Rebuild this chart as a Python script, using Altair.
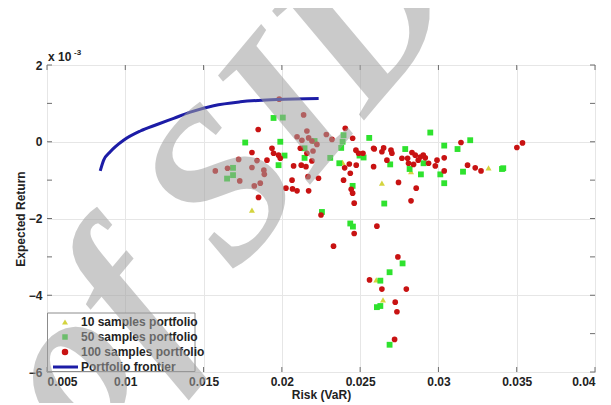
import altair as alt
import pandas as pd

# ---------------- data (Expected Return in units of 1e-3) ----------------
frontier_x = [0.00840, 0.00862, 0.00904, 0.00989, 0.01096, 0.01203, 0.01309,
              0.01415, 0.01564, 0.01734, 0.01969, 0.02235]
frontier_y = [-0.76, -0.48, -0.26, 0.04, 0.28, 0.45, 0.61, 0.77, 0.94, 1.04, 1.10, 1.13]

yellow_x = [0.01809, 0.02388, 0.02825, 0.03320, 0.02639, 0.02603, 0.02646]
yellow_y = [-1.78, -0.54, -0.78, -0.68, -1.08, -3.60, -4.12]

green_x = [0.01947, 0.02006, 0.01766, 0.01688, 0.01688, 0.01650, 0.02209, 0.02145,
           0.02145, 0.01990, 0.02017, 0.01979, 0.02394, 0.02388, 0.02379, 0.02558,
           0.02309, 0.02367, 0.02496, 0.02522, 0.02452, 0.02948, 0.02692, 0.02788,
           0.02816, 0.02905, 0.02888, 0.03037, 0.03012, 0.03037, 0.03122, 0.03203,
           0.03157, 0.03406, 0.03414, 0.02654, 0.02256, 0.02437, 0.02454, 0.02771,
           0.02688, 0.02629, 0.02607, 0.02629, 0.02688]
green_y = [0.62, 0.63, -0.02, -0.68, -0.87, -0.96, 0.02, -0.17,
           -0.42, 0.00, -0.36, -0.61, 0.17, 0.00, -0.16, 0.10,
           -0.42, -0.56, -0.36, -0.41, -1.15, 0.24, -0.59, -0.19,
           -0.71, -0.56, -0.85, -0.10, -0.85, -1.08, -0.19, 0.04,
           -0.78, -0.71, -0.69, -1.61, -1.83, -2.13, -2.21, -3.17,
           -3.40, -3.62, -4.31, -4.28, -5.29]

red_x = [0.01983, 0.02139, 0.01849, 0.01809, 0.01724, 0.01841, 0.01575, 0.01653,
         0.01731, 0.01809, 0.01885, 0.01888, 0.01862, 0.01824, 0.01851, 0.02160,
         0.02097, 0.02128, 0.02171, 0.02192, 0.02224, 0.02118, 0.02160, 0.02199,
         0.02192, 0.02124, 0.02154, 0.02075, 0.01937, 0.01947, 0.01979, 0.01990,
         0.01905, 0.02065, 0.02167, 0.02234, 0.02026, 0.02068, 0.02097, 0.02171,
         0.02284, 0.02320, 0.02405, 0.02452, 0.02473, 0.02490, 0.02586, 0.02401,
         0.02431, 0.02475, 0.02518, 0.02437, 0.02394, 0.02443, 0.02452, 0.02462,
         0.02586, 0.02590, 0.02639, 0.02650, 0.02697, 0.02703, 0.02671, 0.02767,
         0.02803, 0.02809, 0.02831, 0.02852, 0.02884, 0.02916, 0.02871, 0.02903,
         0.02841, 0.02937, 0.02980, 0.02991, 0.03037, 0.03037, 0.03144, 0.03186,
         0.03235, 0.03272, 0.03501, 0.03537, 0.02745, 0.02858, 0.02825, 0.02607,
         0.02250, 0.02462, 0.02330, 0.02741, 0.02560, 0.02639, 0.02795, 0.02724,
         0.02735, 0.02720]
red_y = [1.11, 0.70, 0.32, -0.28, -0.46, -0.49, -0.76, -0.69,
         -1.02, -0.67, -0.74, -0.85, -1.08, -1.15, -1.45, 0.28,
         0.13, 0.04, 0.10, 0.02, -0.07, -0.17, -0.30, -0.24,
         -0.50, -0.61, -0.65, -0.63, -0.17, -0.30, -0.35, -0.43,
         -0.48, -1.00, -0.91, -0.95, -1.21, -1.23, -1.28, -1.28,
         0.19, 0.06, 0.35, 0.09, -0.22, -0.30, -0.17, -0.68,
         -0.58, -0.61, -0.30, -0.82, -1.00, -1.24, -1.34, -1.60,
         -0.65, -0.19, -0.26, -0.16, -0.22, -0.30, -0.48, -0.43,
         -0.43, -0.56, -0.28, -0.35, -0.40, -0.42, -0.48, -0.35,
         -0.59, -0.56, -0.63, -0.48, -0.42, -0.76, -0.02, -0.61,
         -0.68, -0.76, -0.15, -0.03, -1.06, -1.21, -1.54, -2.20,
         -1.91, -2.39, -2.72, -3.00, -3.60, -3.84, -3.84, -4.18,
         -4.43, -5.15]

x_ticks = [0.005, 0.01, 0.015, 0.02, 0.025, 0.03, 0.035, 0.04]
y_ticks = [-6, -5, -4, -3, -2, -1, 0, 1, 2]

series_names = ["10 samples portfolio", "50 samples portfolio",
                "100 samples portfolio", "Portfolio frontier"]
series_color = ["#d4d43e", "#2ee22e", "#c81212", "#1c1ca6"]
series_shape = ["triangle-up", "square", "circle", "stroke"]
series_size = [36, 30, 42, 0]

W, H = 548, 307
FONT = "Liberation Sans"
FS = 12

# ---------------- tables ----------------
pts = pd.concat([
    pd.DataFrame({"risk": yellow_x, "ret": yellow_y, "series": series_names[0]}),
    pd.DataFrame({"risk": green_x, "ret": green_y, "series": series_names[1]}),
    pd.DataFrame({"risk": red_x, "ret": red_y, "series": series_names[2]}),
], ignore_index=True)
pts["z"] = range(len(pts))
fr = pd.DataFrame({"risk": frontier_x, "ret": frontier_y})
xt = pd.DataFrame({"risk": x_ticks})
yt = pd.DataFrame({"ret": y_ticks})

xs = alt.Scale(domain=[0.005, 0.04], nice=False, zero=False)
ys = alt.Scale(domain=[-6, 2], nice=False, zero=False)

points = alt.Chart(pts).mark_point(filled=True, opacity=1, strokeWidth=0).encode(
    x=alt.X("risk:Q", scale=xs, axis=alt.Axis(
        values=x_ticks, labelExpr="format(datum.value, '.3~f')", title="Risk (VaR)",
        labelPadding=4, titlePadding=2)),
    y=alt.Y("ret:Q", scale=ys, axis=alt.Axis(
        values=y_ticks, title="Expected Return", labelPadding=5, titlePadding=1)),
    color=alt.Color("series:N", scale=alt.Scale(domain=series_names, range=series_color), legend=None),
    shape=alt.Shape("series:N", scale=alt.Scale(domain=series_names, range=series_shape), legend=None),
    size=alt.Size("series:N", scale=alt.Scale(domain=series_names, range=series_size), legend=None),
    order=alt.Order("z:Q"),
)

line = alt.Chart(fr).mark_line(color=series_color[3], strokeWidth=3, interpolate="monotone").encode(
    x=alt.X("risk:Q"), y=alt.Y("ret:Q"), order=alt.Order("risk:Q"))

tick_col = "#6e6e6e"
tb = alt.Chart(xt).mark_rule(color=tick_col).encode(x="risk:Q", y=alt.value(H - 5), y2=alt.value(H))
tt = alt.Chart(xt).mark_rule(color=tick_col).encode(x="risk:Q", y=alt.value(0), y2=alt.value(5))
tl = alt.Chart(yt).mark_rule(color=tick_col).encode(y="ret:Q", x=alt.value(0), x2=alt.value(5))
tr = alt.Chart(yt).mark_rule(color=tick_col).encode(y="ret:Q", x=alt.value(W - 5), x2=alt.value(W))

exp_a = alt.Chart(pd.DataFrame({"t": ["x 10"]})).mark_text(
    align="left", baseline="alphabetic", font=FONT, fontSize=FS, fontWeight="bold", color="#222"
).encode(text="t:N", x=alt.value(1), y=alt.value(-4))
exp_b = alt.Chart(pd.DataFrame({"t": ["-3"]})).mark_text(
    align="left", baseline="alphabetic", font=FONT, fontSize=8, fontWeight="bold", color="#222"
).encode(text="t:N", x=alt.value(27), y=alt.value(-10))

# ---------------- manual legend ----------------
leg_layers = [
    alt.Chart(pd.DataFrame({"a": [0]})).mark_rect(fill="white", stroke="#8c8c8c", strokeWidth=1).encode(
        x=alt.value(0.5), x2=alt.value(148), y=alt.value(248), y2=alt.value(H - 0.5))
]
for i, name in enumerate(series_names):
    yy = 257 + 15 * i
    d = pd.DataFrame({"t": [name]})
    if series_shape[i] == "stroke":
        leg_layers.append(alt.Chart(d).mark_rule(color=series_color[i], strokeWidth=3).encode(
            x=alt.value(6), x2=alt.value(31), y=alt.value(yy)))
    else:
        leg_layers.append(alt.Chart(d).mark_point(
            filled=True, shape=series_shape[i], size=series_size[i], color=series_color[i],
            strokeWidth=0, opacity=1).encode(x=alt.value(18), y=alt.value(yy)))
    leg_layers.append(alt.Chart(d).mark_text(
        align="left", baseline="middle", font=FONT, fontSize=FS, fontWeight="bold", color="#222"
    ).encode(text="t:N", x=alt.value(34), y=alt.value(yy)))

wm = alt.Chart(pd.DataFrame({"t": ["of SID"]})).mark_text(
    align="center", baseline="middle", font="Liberation Serif", fontSize=215,
    fontStyle="italic", fontWeight="bold", color="#a0a0a0", opacity=0.55, angle=310
).encode(text="t:N", x=alt.value(178), y=alt.value(120))

chart = alt.layer(points, line, tb, tt, tl, tr, exp_a, exp_b, *leg_layers, wm).properties(
    width=W, height=H,
    autosize=alt.AutoSizeParams(type="none"),
    padding={"left": 39, "top": 57, "right": 8, "bottom": 31},
).configure_view(
    stroke="#8c8c8c", strokeWidth=1, fill="white"
).configure_axis(
    labelFont=FONT, labelFontSize=FS, labelFontWeight="bold", labelColor="#222",
    titleFont=FONT, titleFontSize=FS, titleFontWeight="bold", titleColor="#222",
    grid=True, gridColor="#e6e6e6", gridWidth=1, domain=False, ticks=False,
)

chart.save("out.html", embed_options={"renderer": "svg", "actions": False})
